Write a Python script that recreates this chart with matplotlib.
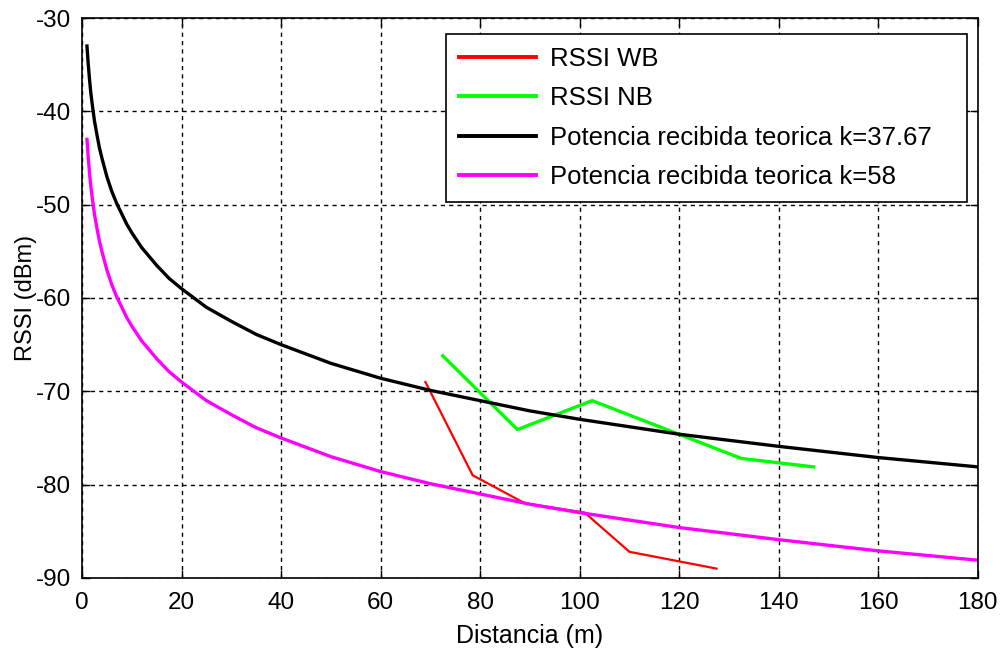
import matplotlib
matplotlib.use('Agg')
import matplotlib.pyplot as plt

plt.rcParams['font.family'] = ['Liberation Sans', 'DejaVu Sans']
plt.rcParams['axes.unicode_minus'] = False

# RSSI medido
dist_wb = [69, 78.5, 89, 101, 110, 127.5]
rssi_wb = [-69, -79, -82, -83, -87.2, -89]
dist_nb = [72.5, 87.5, 102.5, 132.5, 147]
rssi_nb = [-66.2, -74.1, -71, -77.2, -78.1]

# potencia teorica
dist_teo = [1, 1.25, 1.5, 1.75, 2, 2.5, 3, 3.5, 4, 5, 6, 7, 8, 9, 10, 12, 15,
            17.5, 20, 25, 30, 35, 40, 50, 60, 70, 80, 90, 100, 120, 140, 160, 180]
pot_k3767 = [-33, -34.9, -36.5, -37.9, -39, -41, -42.5, -43.9, -45, -47,
             -48.6, -49.9, -51, -52.1, -53, -54.6, -56.5, -57.9, -59, -61,
             -62.5, -63.9, -65, -67, -68.6, -69.9, -71, -72.1, -73, -74.6,
             -75.9, -77.1, -78.1]
pot_k58 = [-43, -44.9, -46.5, -47.9, -49, -51, -52.5, -53.9, -55, -57,
           -58.6, -59.9, -61, -62.1, -63, -64.6, -66.5, -67.9, -69, -71,
           -72.5, -73.9, -75, -77, -78.6, -79.9, -81, -82.1, -83, -84.6,
           -85.9, -87.1, -88.1]

fig = plt.figure(figsize=(10.06, 6.56), dpi=100)
ax = fig.add_axes([0.0815, 0.119, 0.8905, 0.8535])

ax.plot(dist_wb, rssi_wb, color='#ff0000', lw=1.6, label='RSSI WB')
ax.plot(dist_nb, rssi_nb, color='#00ff00', lw=2.4, label='RSSI NB')
ax.plot(dist_teo, pot_k3767, color='black', lw=2.4,
        label='Potencia recibida teorica k=37.67')
ax.plot(dist_teo, pot_k58, color='#ff00ff', lw=2.4,
        label='Potencia recibida teorica k=58')

ax.set_xlim(0, 180)
ax.set_ylim(-90, -30)
ax.set_xticks(range(0, 181, 20))
ax.set_yticks(range(-90, -29, 10))
ax.grid(True, color='black', linestyle=(0, (3, 3)), linewidth=1)
ax.tick_params(direction='in', top=True, right=True, labelsize=17.5,
               length=6, width=1, pad=8)
ax.tick_params(axis='x', pad=10)
for s in ax.spines.values():
    s.set_linewidth(1.2)

ax.set_xlabel('Distancia (m)', fontsize=18, labelpad=7)
ax.set_ylabel('RSSI (dBm)', fontsize=17, labelpad=-1)

# caja de la leyenda ancha como en matlab
leg = ax.legend(loc='upper left', bbox_to_anchor=(0.4063, 0.5, 0.5814, 0.4714),
                mode='expand', fontsize=18.5, fancybox=False, framealpha=1,
                edgecolor='black', handlelength=3.0, handletextpad=0.55,
                borderaxespad=0, borderpad=0.5, labelspacing=0.6)
leg.get_frame().set_linewidth(1.2)
for h in leg.get_lines():
    h.set_linewidth(2.8)

plt.savefig('out.png', dpi=100)
